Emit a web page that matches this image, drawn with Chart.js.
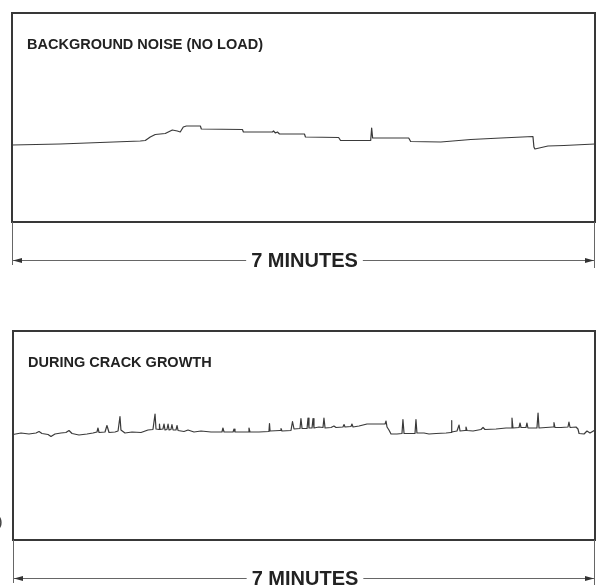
<!DOCTYPE html>
<html>
<head>
<meta charset="utf-8">
<script src="https://cdn.jsdelivr.net/npm/chart.js@4.4.1/dist/chart.umd.min.js"></script>
<style>
  html, body { margin: 0; padding: 0; background: #fff; }
  body { width: 596px; height: 585px; position: relative; overflow: hidden; }
  canvas { position: absolute; left: 0; }
  #noiseChart { top: 0; }
  #crackChart { top: 292px; }
  .edge { position: absolute; left: -3px; top: 512px; font: 17px "Liberation Sans", Arial, sans-serif; color: #444; }
</style>
</head>
<body>
<canvas id="noiseChart" width="596" height="292"></canvas>
<canvas id="crackChart" width="596" height="293"></canvas>
<div class="edge">)</div>
<script>
// time in seconds (whole trace = 7 minutes), amplitude in arbitrary chart units
const spanLabel = "7 MINUTES";
const panelTitles = ["BACKGROUND NOISE (NO LOAD)", "DURING CRACK GROWTH"];

const noiseTime = [0, 34.6, 63.5, 92.4, 96.0, 99.6, 103.2, 110.4, 115.5, 119.1, 121.2, 123.4, 125.6, 135.7, 136.4,
  166.0, 166.7, 187.6, 188.4, 189.8, 191.2, 192.7, 210.7, 211.4, 235.3, 236.7, 258.4, 259.1, 259.8, 285.8,
  287.2, 308.9, 330.5, 352.2, 375.3, 376.0, 376.7, 386.1, 397.6, 420];
const noiseAmp = [76, 77, 78.5, 80, 80.5, 84, 86.5, 87.5, 91, 90, 89, 94, 95, 95, 92,
  91.5, 89, 89, 90, 88, 89, 87, 87, 84, 83.5, 80.5, 80.5, 93, 83, 83,
  79.5, 79, 81.5, 83, 84.5, 74, 72, 75, 75.5, 77];

const crackTime = [0, 5.8, 11.5, 16.6, 18.8, 20.9, 25.3, 27.4, 30.3, 34.6, 38.2, 40.4, 42.6, 47.6, 53.4,
  57.7, 60.6, 61.3, 62.1, 66.4, 67.8, 69.3, 73.6, 75.8, 77.2, 77.9, 80.8, 85.9, 92.4, 97.4,
  101.0, 102.5, 103.2, 105.4, 105.7, 106.1, 108.2, 109.0, 109.7, 111.1, 111.9, 112.6, 114.0, 114.7, 115.5,
  117.6, 118.4, 119.1, 123.4, 126.3, 130.6, 135.7, 142.9, 150.8, 151.5, 152.3, 158.8, 159.5, 160.2, 169.6,
  170.3, 171.0, 177.5, 184.7, 185.1, 185.5, 192.7, 193.4, 194.1, 200.6, 201.7, 202.8, 207.1, 207.8, 208.6,
  212.2, 212.9, 213.6, 215.8, 216.5, 217.2, 220.8, 223.7, 224.4, 225.2, 229.5, 231.6, 233.1, 238.1, 238.9,
  239.6, 243.9, 244.6, 245.4, 249.7, 255.5, 265.6, 268.5, 269.2, 269.9, 271.3, 272.8, 277.1, 280.7, 281.4,
  282.2, 290.1, 290.8, 291.5, 296.6, 300.2, 305.3, 312.5, 316.1, 316.4, 316.8, 320.4, 321.9, 322.6, 326.2,
  326.9, 327.6, 332.0, 337.7, 339.2, 340.6, 348.6, 355.8, 359.4, 360.1, 360.8, 365.2, 365.9, 366.6, 370.2,
  370.9, 371.6, 378.1, 378.9, 379.6, 384.6, 389.7, 390.4, 391.1, 395.5, 400.5, 401.2, 402.0, 406.3, 407.7,
  408.5, 412.1, 414.2, 416.4, 420];
const crackAmp = [104.5, 106, 105, 106, 107.5, 105.5, 104.5, 102.5, 105, 106, 106.5, 108.5, 105.5, 104, 105,
  106, 107, 111, 106.5, 107, 113.5, 106.5, 107, 108, 122.5, 109, 106, 107, 106.5, 109,
  109.5, 125, 110, 109.5, 115, 109.5, 110, 115, 109, 109.5, 115, 109, 109.5, 114.5, 109,
  109, 113.5, 108.5, 107.5, 109, 107, 108, 107, 107, 111, 107, 107, 110, 107, 107,
  111, 107, 107, 107.5, 115.5, 108, 108.5, 110.5, 108, 108.5, 117.5, 110, 110.5, 120.5, 110.5,
  110.5, 121, 111, 111, 120.5, 111, 112, 111.5, 121, 111, 111.5, 113, 111.5, 112, 114.5,
  112, 112.5, 115, 112, 113, 115, 115, 115, 118, 112, 109, 105, 105, 105.5, 119.5,
  105.5, 105.5, 119.5, 106, 106, 105, 105.5, 106, 106.5, 118.5, 107, 108, 114, 108, 108.5,
  112, 108.5, 108, 109.5, 111.5, 109.5, 110, 111, 111, 121, 111, 111.5, 116, 111.5, 111.5,
  116, 111, 111, 126, 111, 111.5, 112, 116.5, 111.5, 111.5, 112, 117, 111.5, 112, 110,
  105.5, 105, 108, 106, 109];

// box, title, and the "7 MINUTES" dimension line under each trace
const framePlugin = {
  id: "frame",
  afterDraw(chart, args, opts) {
    const { ctx, chartArea: a } = chart;
    ctx.save();
    ctx.strokeStyle = "#383838";
    ctx.lineWidth = 2;
    ctx.strokeRect(a.left, a.top, a.right - a.left, a.bottom - a.top);

    ctx.fillStyle = "#222";
    ctx.font = "bold 14.5px 'Liberation Sans', Arial, sans-serif";
    ctx.textAlign = "left";
    ctx.textBaseline = "middle";
    ctx.fillText(opts.title, a.left + 15, a.top + 32);

    const y = a.bottom + 38;
    const cx = (a.left + a.right) / 2 + 1;
    ctx.font = "bold 20px 'Liberation Sans', Arial, sans-serif";
    const tw = ctx.measureText(spanLabel).width;
    ctx.textAlign = "center";
    ctx.fillText(spanLabel, cx, y + 1);

    ctx.strokeStyle = "#666";
    ctx.lineWidth = 1;
    ctx.beginPath();
    ctx.moveTo(a.left + 0.5, a.bottom);
    ctx.lineTo(a.left + 0.5, y + 5);
    ctx.moveTo(a.right - 0.5, a.bottom);
    ctx.lineTo(a.right - 0.5, y + 8);
    ctx.moveTo(a.left, y + 0.5);
    ctx.lineTo(cx - tw / 2 - 5, y + 0.5);
    ctx.moveTo(cx + tw / 2 + 5, y + 0.5);
    ctx.lineTo(a.right, y + 0.5);
    ctx.stroke();

    ctx.fillStyle = "#333";
    ctx.beginPath();
    ctx.moveTo(a.left + 1, y + 0.5);
    ctx.lineTo(a.left + 10, y - 2);
    ctx.lineTo(a.left + 10, y + 3);
    ctx.closePath();
    ctx.moveTo(a.right - 1, y + 0.5);
    ctx.lineTo(a.right - 10, y - 2);
    ctx.lineTo(a.right - 10, y + 3);
    ctx.closePath();
    ctx.fill();
    ctx.restore();
  }
};

function makeTrace(canvasId, times, amps, title, padding) {
  const canvas = document.getElementById(canvasId);
  if (!canvas) return;
  if (typeof Chart === "undefined") {
    console.error("Chart.js is not loaded");
    return;
  }
  const points = times.map((t, i) => ({ x: t, y: amps[i] }));
  new Chart(canvas.getContext("2d"), {
    type: "line",
    data: {
      datasets: [{
        data: points,
        borderColor: "#3a3a3a",
        borderWidth: 1.2,
        borderJoinStyle: "round",
        borderCapStyle: "round",
        pointRadius: 0,
        tension: 0,
        fill: false
      }]
    },
    options: {
      responsive: false,
      animation: false,
      events: [],
      layout: { padding },
      scales: {
        x: { type: "linear", min: 0, max: 420, display: false },
        y: { min: -1, max: 208, display: false }
      },
      plugins: {
        legend: { display: false },
        tooltip: { enabled: false },
        frame: { title }
      }
    },
    plugins: [framePlugin]
  });
}

makeTrace("noiseChart", noiseTime, noiseAmp, panelTitles[0], { left: 12, right: 1, top: 13, bottom: 70 });
makeTrace("crackChart", crackTime, crackAmp, panelTitles[1], { left: 13, right: 1, top: 39, bottom: 45 });
</script>
</body>
</html>
